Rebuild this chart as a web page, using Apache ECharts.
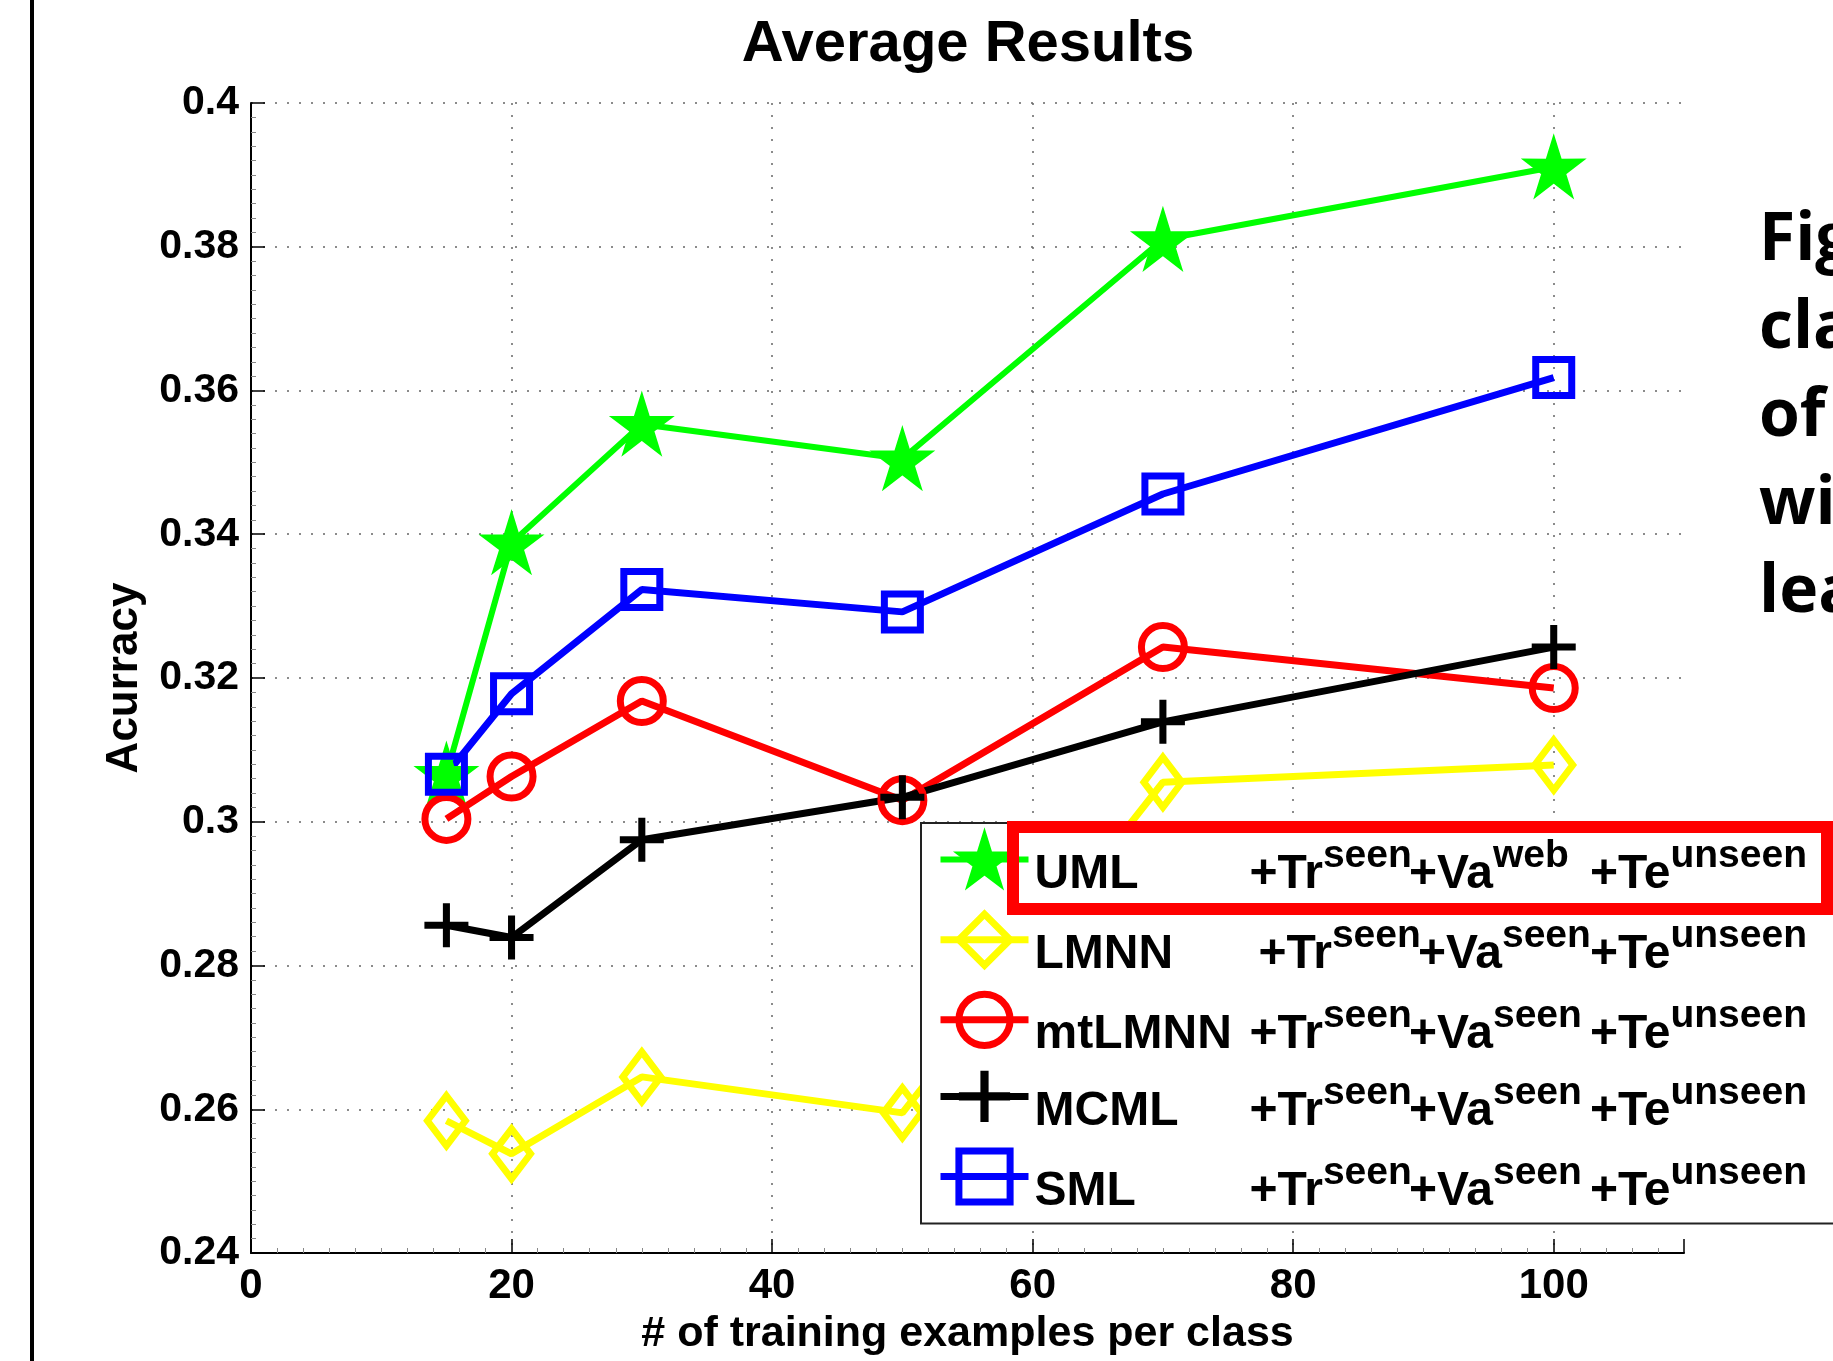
<!DOCTYPE html>
<html><head><meta charset="utf-8">
<script src="https://cdn.jsdelivr.net/npm/echarts@6/dist/echarts.min.js"></script>
<style>html,body{margin:0;padding:0;background:#fff}#c{width:1833px;height:1361px}</style>
</head><body><div id="c"></div>
<script>
const xValues = [15, 20, 30, 50, 70, 100];
const seriesNames = ['UML', 'LMNN', 'mtLMNN', 'MCML', 'SML'];
const umlValues = [0.3066, 0.3388, 0.3553, 0.3505, 0.3810, 0.3911];
const lmnnValues = [0.2584, 0.2538, 0.2645, 0.2595, 0.3055, 0.3079];
const mtlmnnValues = [0.3004, 0.3063, 0.3168, 0.3030, 0.3243, 0.3186];
const mcmlValues = [0.2856, 0.2839, 0.2975, 0.3034, 0.3139, 0.3243];
const smlValues = [0.3066, 0.3178, 0.3323, 0.3292, 0.3456, 0.3618];
const validationSets = ['web', 'seen', 'seen', 'seen', 'seen'];
const xTickLabels = ['0', '20', '40', '60', '80', '100'];
const yTickLabels = ['0.24', '0.26', '0.28', '0.3', '0.32', '0.34', '0.36', '0.38', '0.4'];
const sideTextLines = ['Fig', 'cla', 'of', 'wi', 'lea'];
const titleText = 'Average Results';
const xName = '# of training examples per class';
const yName = 'Acurracy';

const FONT = "'Liberation Sans', Arial, Helvetica, sans-serif";
const starPath = 'path://M50,0 L61.17,34.63 L97.55,34.55 L68.07,55.87 L79.39,90.45 L50,69 L20.61,90.45 L31.93,55.87 L2.45,34.55 L38.83,34.63 Z';
const plusPath = 'path://M42,0H58V42H100V58H58V100H42V58H0V42H42Z';

function pts(vals) { return xValues.map((x, i) => [x, vals[i]]); }

const chart = echarts.init(document.getElementById('c'), null, {renderer: 'canvas'});

const sub = {fontSize: 39, fontWeight: 'bold', fontFamily: FONT, color: '#000', verticalAlign: 'bottom', padding: [0, 0, 23, 0]};
const main = {fontSize: 48, fontWeight: 'bold', fontFamily: FONT, color: '#000', lineHeight: 78, verticalAlign: 'bottom'};
const ext = (o, e) => Object.assign({}, o, e);

const option = {
  animation: false,
  backgroundColor: '#fff',
  grid: {left: 251, top: 103, right: 149, bottom: 107, containLabel: false},
  xAxis: {
    type: 'value', min: 0, max: 110, interval: 20,
    axisLine: {show: true, onZero: false, lineStyle: {color: '#000', width: 2}},
    axisTick: {show: true, inside: true, length: 14, lineStyle: {color: '#000', width: 1.5}},
    minorTick: {show: true, splitNumber: 10, length: 5, lineStyle: {color: '#888', width: 1}},
    axisLabel: {
      showMaxLabel: false, color: '#000', fontSize: 42, fontWeight: 'bold', fontFamily: FONT, margin: 12,
      formatter: v => { const i = Math.round(v / 20); return (Math.abs(v - i * 20) < 1e-6 && xTickLabels[i] !== undefined) ? xTickLabels[i] : ''; }
    },
    splitLine: {show: true, showMinLine: false, showMaxLine: false, lineStyle: {color: '#666', width: 1.5, type: [2, 10]}},
    name: xName, nameLocation: 'middle', nameGap: 60,
    nameTextStyle: {color: '#000', fontSize: 43, fontWeight: 'bold', fontFamily: FONT}
  },
  yAxis: {
    type: 'value', min: 0.24, max: 0.4, interval: 0.02,
    axisLine: {show: true, onZero: false, lineStyle: {color: '#000', width: 2}},
    axisTick: {show: true, inside: true, length: 14, lineStyle: {color: '#000', width: 1.5}},
    minorTick: {show: true, splitNumber: 10, length: 5, lineStyle: {color: '#888', width: 1}},
    axisLabel: {
      color: '#000', fontSize: 41, fontWeight: 'bold', fontFamily: FONT, margin: 12,
      formatter: v => yTickLabels[Math.round((v - 0.24) / 0.02)] || ''
    },
    splitLine: {show: true, showMinLine: false, showMaxLine: true, lineStyle: {color: '#666', width: 1.5, type: [2, 10]}},
    name: yName, nameLocation: 'middle', nameGap: 104, nameRotate: 90,
    nameTextStyle: {color: '#000', fontSize: 44, fontWeight: 'bold', fontFamily: FONT}
  },
  legend: {
    orient: 'vertical', left: 921, top: 823,
    padding: [9, 60, 8, 16],
    itemWidth: 88, itemHeight: 64, itemGap: 12,
    backgroundColor: '#fff', borderColor: '#222', borderWidth: 2,
    selectedMode: false,
    lineStyle: {width: 'inherit'},
    itemStyle: {borderWidth: 'inherit'},
    data: seriesNames,
    formatter: function (name) {
      const i = seriesNames.indexOf(name);
      const k = name === 'LMNN' ? 'L' : '';
      return '{n' + k + '|' + name + '}{m|+Tr}{s1|seen}{m|+Va}{v' + k + '|' + validationSets[i] + '}{m|+Te}{s|unseen}';
    },
    textStyle: {
      fontSize: 48, fontWeight: 'bold', fontFamily: FONT, color: '#000',
      rich: {
        n: ext(main, {width: 215, padding: [0, 0, 0, 1]}),
        nL: ext(main, {width: 224, padding: [0, 0, 0, 1]}),
        m: main,
        s1: ext(sub, {width: 86}),
        v: ext(sub, {width: 97}),
        vL: ext(sub, {width: 88}),
        s: sub
      }
    }
  },
  series: [
    {name: 'UML', type: 'line', data: pts(umlValues), symbol: starPath, symbolSize: 54,
     lineStyle: {color: '#00ff00', width: 6}, itemStyle: {color: '#00ff00', borderColor: '#00ff00', borderWidth: 4}, emphasis: {disabled: true}},
    {name: 'LMNN', type: 'line', data: pts(lmnnValues), symbol: 'diamond', symbolSize: [38, 50],
     lineStyle: {color: '#ffff00', width: 7}, itemStyle: {color: 'rgba(0,0,0,0)', borderColor: '#ffff00', borderWidth: 7}, emphasis: {disabled: true}},
    {name: 'mtLMNN', type: 'line', data: pts(mtlmnnValues), symbol: 'circle', symbolSize: 43,
     lineStyle: {color: '#ff0000', width: 7}, itemStyle: {color: 'rgba(0,0,0,0)', borderColor: '#ff0000', borderWidth: 7}, emphasis: {disabled: true}},
    {name: 'MCML', type: 'line', data: pts(mcmlValues), symbol: plusPath, symbolSize: 44,
     lineStyle: {color: '#000000', width: 7}, itemStyle: {color: '#000000', borderColor: '#000000', borderWidth: 0}, emphasis: {disabled: true}},
    {name: 'SML', type: 'line', data: pts(smlValues), symbol: 'rect', symbolSize: 36,
     lineStyle: {color: '#0000ff', width: 7}, itemStyle: {color: 'rgba(0,0,0,0)', borderColor: '#0000ff', borderWidth: 7}, emphasis: {disabled: true}}
  ],
  graphic: {
    elements: [
      {type: 'rect', left: 30, top: 0, shape: {width: 4, height: 1361}, style: {fill: '#000'}, z: 100},
      {type: 'text', x: 968, y: 45, style: {text: titleText, align: 'center', verticalAlign: 'middle', font: 'bold 58px ' + FONT, fill: '#000'}, z: 100},
      {type: 'rect', shape: {x: 1013, y: 827, width: 814, height: 82}, style: {fill: 'none', stroke: '#ff0000', lineWidth: 12}, z: 100}
    ].concat(sideTextLines.map((t, i) => ({
      type: 'text', x: 1759, y: 241 + i * 88,
      style: {text: t, align: 'left', verticalAlign: 'middle', font: "bold 66px 'Open Sans', sans-serif", fill: '#000'}, z: 100
    })))
  }
};
chart.setOption(option);
</script></body></html>
